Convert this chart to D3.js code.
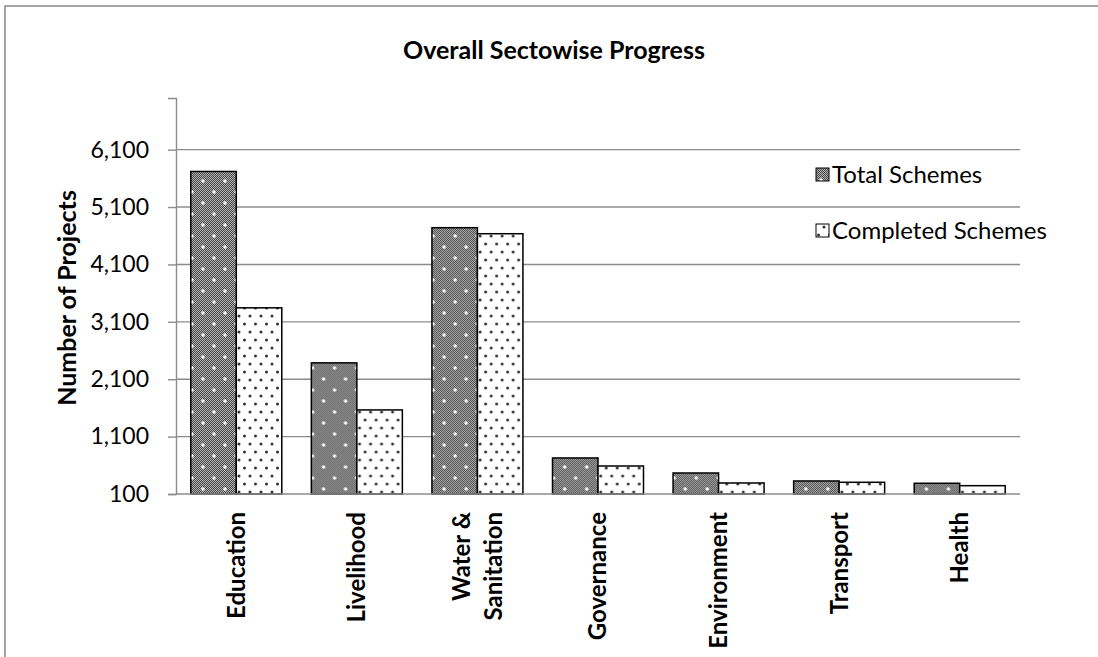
<!DOCTYPE html>
<html>
<head>
<meta charset="utf-8">
<script src="https://cdn.jsdelivr.net/npm/d3@7"></script>
<style>
  html, body { margin: 0; padding: 0; background: #fff; }
  svg { display: block; font-family: Lato, "Open Sans", sans-serif; }
</style>
</head>
<body>
<svg id="chart" width="1098" height="657"></svg>
<script>
// Sector-wise scheme counts
const categories = ["Education", "Livelihood", "Water & Sanitation", "Governance", "Environment", "Transport", "Health"];
const seriesNames = ["Total Schemes", "Completed Schemes"];
const totalSchemes = [5720, 2385, 4740, 728, 466, 327, 287];
const completedSchemes = [3344, 1565, 4635, 588, 292, 304, 245];
const yTicks = [100, 1100, 2100, 3100, 4100, 5100, 6100];

const svg = d3.select("#chart");
const plot = { left: 176, right: 1020, top: 98, bottom: 494 };

// Fill patterns: dark checker with white dots, and white with dark dots
const defs = svg.append("defs");
const chk = defs.append("pattern").attr("id", "chk")
  .attr("patternUnits", "userSpaceOnUse").attr("width", 2).attr("height", 2);
chk.append("rect").attr("width", 2).attr("height", 2).attr("fill", "#4a4a4a");
chk.append("rect").attr("width", 1).attr("height", 1).attr("fill", "#b0b0b0");
chk.append("rect").attr("x", 1).attr("y", 1).attr("width", 1).attr("height", 1).attr("fill", "#b0b0b0");

const pTotal = defs.append("pattern").attr("id", "patTotal")
  .attr("patternUnits", "userSpaceOnUse").attr("width", 22).attr("height", 22);
pTotal.append("rect").attr("width", 22).attr("height", 22).attr("fill", "url(#chk)");
[[5, 5], [16, 16]].forEach(([cx, cy]) => {
  pTotal.append("circle").attr("cx", cx).attr("cy", cy).attr("r", 1.7).attr("fill", "#fff");
});

const pDone = defs.append("pattern").attr("id", "patDone")
  .attr("patternUnits", "userSpaceOnUse").attr("width", 11).attr("height", 16);
pDone.append("rect").attr("width", 11).attr("height", 16).attr("fill", "#fff");
[[2.5, 4], [8, 12]].forEach(([cx, cy]) => {
  pDone.append("circle").attr("cx", cx).attr("cy", cy).attr("r", 1.5).attr("fill", "#333");
});
const fills = ["url(#patTotal)", "url(#patDone)"];

// Outer chart frame
svg.append("rect").attr("x", 5).attr("y", 6).attr("width", 1300).attr("height", 900)
  .attr("fill", "none").attr("stroke", "#888").attr("stroke-width", 1.5);

// Title
svg.append("text").attr("x", 554).attr("y", 59).attr("text-anchor", "middle")
  .attr("font-size", 25).attr("font-weight", "bold").attr("fill", "#000")
  .text("Overall Sectowise Progress");

// Scales
const x0 = d3.scaleBand().domain(categories).range([plot.left, plot.right]).paddingInner(0).paddingOuter(0);
const x1 = d3.scaleBand().domain(seriesNames).range([0, x0.bandwidth()]).paddingInner(0).paddingOuter(0.325);
const y = d3.scaleLinear().domain([100, 7000]).range([plot.bottom, plot.top]);

// Gridlines
svg.append("g").selectAll("line").data(yTicks.slice(1)).join("line")
  .attr("x1", plot.left).attr("x2", plot.right)
  .attr("y1", d => y(d)).attr("y2", d => y(d))
  .attr("stroke", "#8c8c8c").attr("stroke-width", 1.4);

// Y axis
const yAxis = svg.append("g").attr("transform", `translate(${plot.left},0)`)
  .call(d3.axisLeft(y).tickValues(yTicks).tickFormat(d3.format(",")).tickSizeOuter(0).tickSize(8).tickPadding(19));
yAxis.select(".domain").attr("stroke", "#8c8c8c").attr("stroke-width", 1.4);
yAxis.selectAll(".tick line").attr("stroke", "#8c8c8c").attr("stroke-width", 1.4);
yAxis.selectAll(".tick text").attr("font-size", 23).attr("fill", "#000")
  .attr("font-family", "Lato, sans-serif");

// Bars
const rows = categories.map((c, i) => ({ cat: c, vals: [totalSchemes[i], completedSchemes[i]] }));
const groups = svg.append("g").selectAll("g").data(rows).join("g")
  .attr("transform", d => `translate(${x0(d.cat)},0)`);
groups.selectAll("rect").data(d => d.vals.map((v, j) => ({ key: seriesNames[j], v, j }))).join("rect")
  .attr("x", d => x1(d.key)).attr("width", x1.bandwidth())
  .attr("y", d => y(d.v)).attr("height", d => y(100) - y(d.v))
  .attr("fill", d => fills[d.j]).attr("stroke", "#000").attr("stroke-width", 1.5);

// X axis line
svg.append("line").attr("x1", plot.left).attr("x2", plot.right)
  .attr("y1", plot.bottom).attr("y2", plot.bottom)
  .attr("stroke", "#8c8c8c").attr("stroke-width", 1.4);

// Category labels (rotated)
const labelSize = 24;
const catLabels = svg.append("g").selectAll("text").data(categories).join("text")
  .attr("transform", d => `translate(${x0(d) + x0.bandwidth() / 2},512) rotate(-90)`)
  .attr("text-anchor", "end").attr("font-size", labelSize).attr("font-weight", "bold").attr("fill", "#000");
catLabels.each(function (d) {
  const t = d3.select(this);
  const parts = d === "Water & Sanitation" ? ["Water &", "Sanitation"] : [d];
  const lh = 32;
  parts.forEach((p, k) => {
    t.append("tspan").attr("x", 0)
      .attr("dy", k === 0 ? `${0.35 * labelSize - (parts.length - 1) * lh / 2}px` : `${lh}px`)
      .text(p);
  });
});

// Y axis title
svg.append("text").attr("transform", "translate(67,298) rotate(-90)")
  .attr("text-anchor", "middle").attr("dy", "0.35em")
  .attr("font-size", 25).attr("font-weight", "bold").attr("fill", "#000")
  .text("Number of Projects");

// Legend
const legend = svg.append("g").selectAll("g").data(seriesNames).join("g")
  .attr("transform", (d, i) => `translate(816,${175 + i * 56})`);
legend.append("rect").attr("x", 0).attr("y", -7).attr("width", 13).attr("height", 13)
  .attr("fill", (d, i) => fills[i]).attr("stroke", "#000").attr("stroke-width", 1);
legend.append("text").attr("x", 16).attr("dy", "0.35em")
  .attr("font-size", 24).attr("fill", "#000").text(d => d);
</script>
</body>
</html>
